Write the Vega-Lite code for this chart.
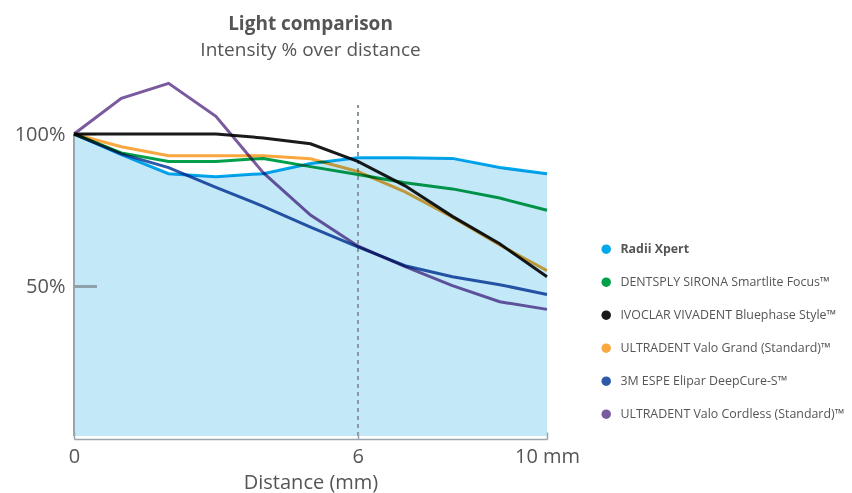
{
  "$schema": "https://vega.github.io/schema/vega-lite/v6.json",
  "width": 473,
  "height": 366,
  "autosize": {"type": "none"},
  "padding": {"left": 74, "top": 73, "right": 305, "bottom": 54},
  "background": "white",
  "config": {"font": "Open Sans", "view": {"stroke": null}},
  "title": {
    "text": "Light comparison",
    "subtitle": "Intensity % over distance",
    "anchor": "middle",
    "frame": "group",
    "fontSize": 19,
    "fontWeight": "bold",
    "color": "#555555",
    "subtitleFontSize": 19,
    "subtitleColor": "#555555",
    "subtitlePadding": 7,
    "offset": 13
  },
  "datasets": {
    "series": [
      {"product": "Radii Xpert", "d": 0, "v": 100},
      {"product": "Radii Xpert", "d": 1, "v": 93.2},
      {"product": "Radii Xpert", "d": 2, "v": 87},
      {"product": "Radii Xpert", "d": 3, "v": 86},
      {"product": "Radii Xpert", "d": 4, "v": 87},
      {"product": "Radii Xpert", "d": 5, "v": 90.3},
      {"product": "Radii Xpert", "d": 6, "v": 92.2},
      {"product": "Radii Xpert", "d": 7, "v": 92.2},
      {"product": "Radii Xpert", "d": 8, "v": 92},
      {"product": "Radii Xpert", "d": 9, "v": 89},
      {"product": "Radii Xpert", "d": 10, "v": 87},
      {"product": "DENTSPLY SIRONA Smartlite Focus™", "d": 0, "v": 100},
      {"product": "DENTSPLY SIRONA Smartlite Focus™", "d": 1, "v": 93.8},
      {"product": "DENTSPLY SIRONA Smartlite Focus™", "d": 2, "v": 91},
      {"product": "DENTSPLY SIRONA Smartlite Focus™", "d": 3, "v": 91},
      {"product": "DENTSPLY SIRONA Smartlite Focus™", "d": 4, "v": 92},
      {"product": "DENTSPLY SIRONA Smartlite Focus™", "d": 5, "v": 89.3},
      {"product": "DENTSPLY SIRONA Smartlite Focus™", "d": 6, "v": 86.7},
      {"product": "DENTSPLY SIRONA Smartlite Focus™", "d": 7, "v": 84},
      {"product": "DENTSPLY SIRONA Smartlite Focus™", "d": 8, "v": 82},
      {"product": "DENTSPLY SIRONA Smartlite Focus™", "d": 9, "v": 79},
      {"product": "DENTSPLY SIRONA Smartlite Focus™", "d": 10, "v": 75},
      {"product": "IVOCLAR VIVADENT Bluephase Style™", "d": 0, "v": 100},
      {"product": "IVOCLAR VIVADENT Bluephase Style™", "d": 1, "v": 100},
      {"product": "IVOCLAR VIVADENT Bluephase Style™", "d": 2, "v": 100},
      {"product": "IVOCLAR VIVADENT Bluephase Style™", "d": 3, "v": 100},
      {"product": "IVOCLAR VIVADENT Bluephase Style™", "d": 4, "v": 98.7},
      {"product": "IVOCLAR VIVADENT Bluephase Style™", "d": 5, "v": 96.8},
      {"product": "IVOCLAR VIVADENT Bluephase Style™", "d": 6, "v": 91},
      {"product": "IVOCLAR VIVADENT Bluephase Style™", "d": 7, "v": 83},
      {"product": "IVOCLAR VIVADENT Bluephase Style™", "d": 8, "v": 73},
      {"product": "IVOCLAR VIVADENT Bluephase Style™", "d": 9, "v": 64},
      {"product": "IVOCLAR VIVADENT Bluephase Style™", "d": 10, "v": 53.2},
      {"product": "ULTRADENT Valo Grand (Standard)™", "d": 0, "v": 100},
      {"product": "ULTRADENT Valo Grand (Standard)™", "d": 1, "v": 95.8},
      {"product": "ULTRADENT Valo Grand (Standard)™", "d": 2, "v": 92.9},
      {"product": "ULTRADENT Valo Grand (Standard)™", "d": 3, "v": 92.9},
      {"product": "ULTRADENT Valo Grand (Standard)™", "d": 4, "v": 92.9},
      {"product": "ULTRADENT Valo Grand (Standard)™", "d": 5, "v": 91.9},
      {"product": "ULTRADENT Valo Grand (Standard)™", "d": 6, "v": 87.7},
      {"product": "ULTRADENT Valo Grand (Standard)™", "d": 7, "v": 81},
      {"product": "ULTRADENT Valo Grand (Standard)™", "d": 8, "v": 72.7},
      {"product": "ULTRADENT Valo Grand (Standard)™", "d": 9, "v": 63.6},
      {"product": "ULTRADENT Valo Grand (Standard)™", "d": 10, "v": 55.2},
      {"product": "3M ESPE Elipar DeepCure-S™", "d": 0, "v": 100},
      {"product": "3M ESPE Elipar DeepCure-S™", "d": 1, "v": 93.5},
      {"product": "3M ESPE Elipar DeepCure-S™", "d": 2, "v": 89},
      {"product": "3M ESPE Elipar DeepCure-S™", "d": 3, "v": 82.5},
      {"product": "3M ESPE Elipar DeepCure-S™", "d": 4, "v": 76.3},
      {"product": "3M ESPE Elipar DeepCure-S™", "d": 5, "v": 69.5},
      {"product": "3M ESPE Elipar DeepCure-S™", "d": 6, "v": 63},
      {"product": "3M ESPE Elipar DeepCure-S™", "d": 7, "v": 56.8},
      {"product": "3M ESPE Elipar DeepCure-S™", "d": 8, "v": 53.2},
      {"product": "3M ESPE Elipar DeepCure-S™", "d": 9, "v": 50.6},
      {"product": "3M ESPE Elipar DeepCure-S™", "d": 10, "v": 47.4},
      {"product": "ULTRADENT Valo Cordless (Standard)™", "d": 0, "v": 100},
      {"product": "ULTRADENT Valo Cordless (Standard)™", "d": 1, "v": 111.7},
      {"product": "ULTRADENT Valo Cordless (Standard)™", "d": 2, "v": 116.6},
      {"product": "ULTRADENT Valo Cordless (Standard)™", "d": 3, "v": 105.8},
      {"product": "ULTRADENT Valo Cordless (Standard)™", "d": 4, "v": 87.3},
      {"product": "ULTRADENT Valo Cordless (Standard)™", "d": 5, "v": 73.4},
      {"product": "ULTRADENT Valo Cordless (Standard)™", "d": 6, "v": 63.3},
      {"product": "ULTRADENT Valo Cordless (Standard)™", "d": 7, "v": 56.5},
      {"product": "ULTRADENT Valo Cordless (Standard)™", "d": 8, "v": 50.3},
      {"product": "ULTRADENT Valo Cordless (Standard)™", "d": 9, "v": 45},
      {"product": "ULTRADENT Valo Cordless (Standard)™", "d": 10, "v": 42.5}
    ]
  },
  "data": {"name": "series"},
  "layer": [
    {
      "transform": [{"filter": "datum.product === 'Radii Xpert'"}],
      "mark": {"type": "area", "color": "#c3e9f9", "opacity": 1},
      "encoding": {
        "x": {"field": "d", "type": "quantitative", "scale": {"domain": [0, 10]}},
        "y": {"field": "v", "type": "quantitative", "scale": {"domain": [1, 120], "zero": false}},
        "y2": {"datum": 1}
      }
    },
    {
      "mark": {"type": "rule", "color": "#9aa5ad", "strokeWidth": 1.5},
      "encoding": {
        "x": {"datum": 0},
        "y": {"datum": 1},
        "y2": {"datum": 100}
      }
    },
    {
      "mark": {"type": "rule", "color": "#8797a3", "strokeWidth": 1.5, "strokeDash": [4, 4]},
      "encoding": {
        "x": {"datum": 6},
        "y": {"datum": 1},
        "y2": {"datum": 109.5}
      }
    },
    {
      "mark": {"type": "line", "strokeWidth": 3, "blend": "multiply"},
      "encoding": {
        "x": {
          "field": "d",
          "type": "quantitative",
          "axis": {
            "title": "Distance (mm)",
            "values": [0, 6, 10],
            "labelExpr": "datum.value == 10 ? '10 mm' : datum.label",
            "labelFlush": false,
            "grid": false,
            "zindex": 1,
            "domainColor": "#9aa5ad",
            "domainWidth": 1.5,
            "tickColor": "#9aa5ad",
            "tickWidth": 1.5,
            "tickSize": -7,
            "labelFontSize": 20,
            "labelColor": "#555555",
            "labelPadding": 14,
            "titleFontSize": 20,
            "titleColor": "#555555",
            "titleFontWeight": "normal",
            "titlePadding": 6
          }
        },
        "y": {
          "field": "v",
          "type": "quantitative",
          "axis": {
            "title": null,
            "values": [50, 100],
            "labelExpr": "datum.value + '%'",
            "labelFlush": false,
            "domain": false,
            "grid": false,
            "zindex": 0,
            "tickSize": -22,
            "tickColor": "#8fa0ab",
            "tickWidth": 1.5,
            "labelFontSize": 20,
            "labelColor": "#555555",
            "labelPadding": 31
          }
        },
        "color": {
          "field": "product",
          "type": "nominal",
          "scale": {
            "domain": ["Radii Xpert", "DENTSPLY SIRONA Smartlite Focus™", "IVOCLAR VIVADENT Bluephase Style™", "ULTRADENT Valo Grand (Standard)™", "3M ESPE Elipar DeepCure-S™", "ULTRADENT Valo Cordless (Standard)™"],
            "range": ["#00a9ec", "#00a04a", "#1a1a1a", "#f9a73e", "#2d5aa8", "#7a5a9e"]
          },
          "legend": {
            "title": null,
            "orient": "none",
            "legendX": 526,
            "legendY": 170,
            "symbolType": "circle",
            "symbolSize": 90,
            "symbolStrokeWidth": 0,
            "labelFontSize": 12.4,
            "labelColor": "#555555",
            "labelOffset": 8,
            "labelLimit": 320,
            "rowPadding": 20,
            "encode": {
              "symbols": {"update": {"fill": {"scale": "color", "field": "value"}, "strokeWidth": {"value": 0}, "opacity": {"value": 1}}},
              "labels": {"update": {"fontWeight": {"signal": "datum.label === 'Radii Xpert' ? 'bold' : 'normal'"}}}
            }
          }
        }
      }
    },
    {
      "mark": {"type": "rule", "color": "#8fa0ab", "strokeWidth": 1.5},
      "encoding": {
        "x": {"datum": 0},
        "x2": {"datum": 0.47},
        "y": {"datum": 50}
      }
    }
  ]
}
